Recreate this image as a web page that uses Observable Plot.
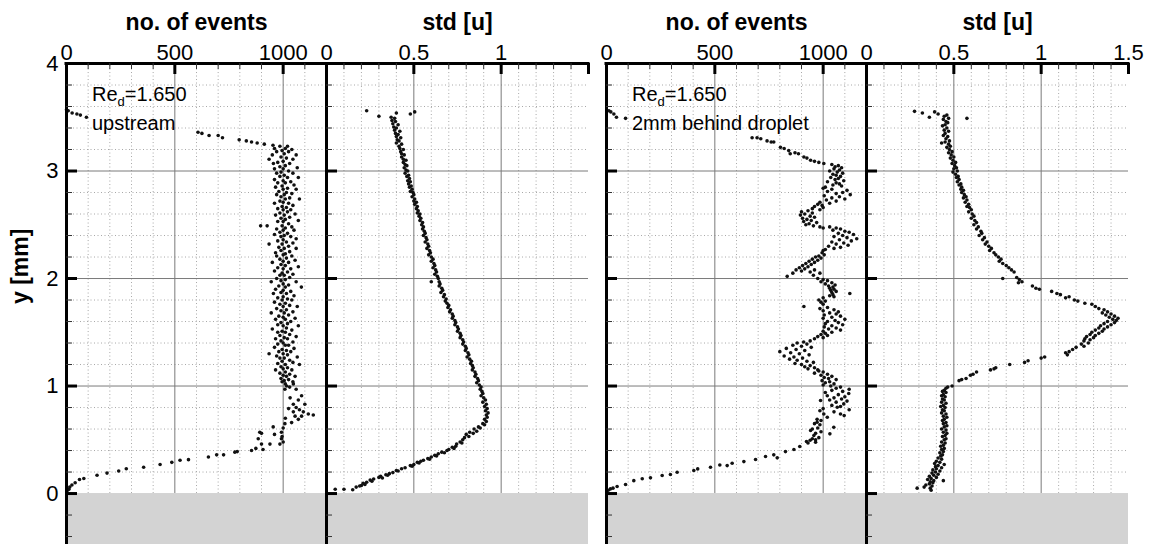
<!DOCTYPE html>
<html><head><meta charset="utf-8">
<script src="https://cdn.jsdelivr.net/npm/d3@7"></script>
<script src="https://cdn.jsdelivr.net/npm/@observablehq/plot@0.6"></script>
<style>
body{margin:0;background:#fff;}
#wrap{position:relative;width:1150px;height:544px;overflow:hidden;font-family:"Liberation Sans",Arial,sans-serif;}
</style></head><body><div id="wrap"></div>
<script>
// ---------- axes / ticks ----------
const Y_TOP = 4, Y_BOTTOM = -0.474;
const yTickMajor = [0, 1, 2, 3];
const yTickMinor = [-0.4, -0.2, 0.2, 0.4, 0.6, 0.8, 1.2, 1.4, 1.6, 1.8, 2.2, 2.4, 2.6, 2.8, 3.2, 3.4, 3.6, 3.8];
const yGridMajor = [1, 2, 3];
const yGridMinor = [0.2, 0.4, 0.6, 0.8, 1.2, 1.4, 1.6, 1.8, 2.2, 2.4, 2.6, 2.8, 3.2, 3.4, 3.6, 3.8];
const yLabels = [0, 1, 2, 3, 4];
const eventsDomain = [0, 1200];
const eventsMajor = [500, 1000];
const eventsMinor = [100, 200, 300, 400, 600, 700, 800, 900, 1100];
const eventsLabels = [0, 500, 1000];
const stdDomain = [0, 1.5];
const stdMajor = [0.5, 1, 1.5];
const stdMinor = [0.1, 0.2, 0.3, 0.4, 0.6, 0.7, 0.8, 0.9, 1.1, 1.2, 1.3, 1.4];
const stdLabelsLeft = [0, 0.5, 1];
const stdLabelsRight = [0, 0.5, 1, 1.5];
const titles = ["no. of events", "std [u]", "no. of events", "std [u]"];
const yTitle = "y [mm]";
const annotLeft = ["Re", "d", "=1.650", "upstream"];
const annotRight = ["Re", "d", "=1.650", "2mm behind droplet"];

// ---------- data: [x, y] ----------
const upstreamEvents = [
[0,3.57],[8,3.56],[26,3.54],[48,3.53],[64,3.52],[92,3.50],
[607,3.36],[625,3.35],[658,3.33],[700,3.33],[720,3.31],[797,3.29],[830,3.28],[854,3.27],[880,3.26],[913,3.25],[953,3.24],
[985,3.23],[1020,3.23],[1010,3.21],[960,3.21],[1040,3.20],[995,3.19],[1025,3.18],[970,3.18],[1005,3.16],[1060,3.15],[950,3.15],[990,3.13],[1015,3.12],[935,3.11],[1045,3.11],[1000,3.09],[975,3.08],[1030,3.07],[955,3.07],[1010,3.05],[985,3.04],[1065,3.03],[1000,3.02],[960,3.02],[1025,3.00],[990,2.99],[1045,2.98],[970,2.98],[1005,2.96],[985,2.95],[1070,2.94],[1020,2.94],[960,2.92],[1000,2.91],[1035,2.90],[975,2.89],[1010,2.89],[1050,2.87],[995,2.86],[965,2.85],[1020,2.84],[1000,2.83],[1060,2.83],[980,2.81],[1015,2.80],[1040,2.79],[970,2.78],[1005,2.78],[990,2.76],[1030,2.75],[1010,2.74],[1075,2.74],[985,2.72],[1000,2.71],[960,2.70],[1025,2.70],[1045,2.68],[995,2.67],[1015,2.66],[975,2.65],[1035,2.64],[1000,2.64],[1020,2.62],[985,2.61],[1055,2.60],[1005,2.59],[965,2.59],[1030,2.57],[990,2.56],[1010,2.55],[1070,2.54],[975,2.53],[1000,2.53],[1025,2.51],[896,2.49],[926,2.49],[995,2.49],[1040,2.48],[1010,2.47],[970,2.46],[1000,2.45],[1050,2.45],[985,2.43],[1020,2.42],[960,2.41],[1005,2.40],[1035,2.39],[990,2.39],[1060,2.37],[1000,2.36],[975,2.35],[1015,2.34],[1045,2.33],[935,2.32],[995,2.32],[1025,2.30],[980,2.29],[1005,2.28],[1060,2.28],[990,2.26],[1030,2.25],[965,2.24],[1010,2.23],[1000,2.22],[1040,2.21],[970,2.21],[1015,2.19],[985,2.18],[1055,2.17],[1000,2.16],[950,2.15],[1025,2.15],[990,2.13],[1010,2.12],[1070,2.11],[975,2.10],[1000,2.09],[1035,2.09],[960,2.07],[1020,2.06],[995,2.05],[1045,2.04],[985,2.03],[1005,2.03],[1030,2.01],[970,2.00],[1010,1.99],[990,1.98],[1060,1.97],[945,1.97],[1000,1.95],[1025,1.94],[980,1.93],[1084,1.92],[1010,1.92],[965,1.90],[1000,1.89],[1035,1.88],[990,1.87],[1015,1.86],[955,1.86],[1050,1.84],[1000,1.83],[975,1.82],[1020,1.81],[995,1.80],[1040,1.80],[960,1.78],[1010,1.77],[985,1.76],[1030,1.75],[1000,1.74],[1065,1.74],[970,1.72],[1015,1.71],[990,1.70],[1045,1.69],[1005,1.68],[945,1.68],[1025,1.66],[980,1.65],[1000,1.64],[1055,1.63],[965,1.62],[1010,1.62],[1035,1.60],[990,1.59],[1020,1.58],[975,1.57],[1000,1.56],[1070,1.56],[1015,1.54],[950,1.53],[1040,1.52],[995,1.51],[1010,1.50],[975,1.50],[1030,1.48],[985,1.47],[1060,1.46],[1005,1.45],[965,1.44],[1020,1.44],[990,1.42],[1045,1.41],[1000,1.40],[975,1.39],[1025,1.38],[1010,1.38],[960,1.36],[1050,1.35],[995,1.34],[1015,1.33],[980,1.32],[1035,1.32],[935,1.30],[1000,1.30],[1020,1.29],[970,1.28],[1065,1.27],[1005,1.26],[985,1.26],[1030,1.24],[995,1.23],[1045,1.22],[975,1.21],[1010,1.20],[1075,1.20],[990,1.18],[1020,1.17],[1000,1.16],[1040,1.15],[965,1.15],[1010,1.13],[985,1.12],[1030,1.11],[1000,1.10],[1055,1.09],[1015,1.09],[990,1.07],[1025,1.06],[1005,1.05],[995,1.04],[1045,1.04],[1047,1.02],[1010,1.02],[1016,1.00],[1030,0.99],[1008,0.97],[1060,0.97],
[1032,0.89],[1085,0.91],[1047,0.83],[1100,0.83],[1070,0.87],[1093,0.76],[1047,0.76],[1055,0.72],[1116,0.74],[1139,0.73],[1085,0.72],[1070,0.69],[1039,0.66],[1008,0.65],[1000,0.61],[954,0.62],[992,0.57],[892,0.57],[900,0.56],[885,0.51],[992,0.51],[985,0.46],[939,0.46],[900,0.46],[907,0.41],[874,0.42],[854,0.40],[788,0.39],[777,0.385],[725,0.36],[693,0.36],[655,0.34],[563,0.315],[524,0.31],[486,0.29],[432,0.27],[356,0.245],[276,0.23],[241,0.21],[187,0.19],[141,0.17],[80,0.14],[60,0.13],[40,0.10],[25,0.08],[15,0.06],[11,0.04],[5,0.03],
[1010,0.70],[1025,0.79],[1060,0.80],[1075,0.78],[995,0.53],[1000,0.48],[960,0.55]
];

const upstreamStd = [
[0.23,3.56],[0.30,3.51],[0.40,3.54],[0.48,3.53],[0.505,3.55],
[0.37,3.50],[0.39,3.49],[0.375,3.47],[0.395,3.46],[0.38,3.44],[0.41,3.43],[0.385,3.41],[0.40,3.40],[0.39,3.38],[0.42,3.37],[0.395,3.35],[0.41,3.34],[0.40,3.32],[0.425,3.31],[0.405,3.29],[0.415,3.28],[0.40,3.26],[0.43,3.25],[0.415,3.23],[0.42,3.21],[0.44,3.20],[0.425,3.18],[0.43,3.16],[0.445,3.15],[0.43,3.13],[0.44,3.11],[0.455,3.10],[0.44,3.08],[0.45,3.06],[0.46,3.05],[0.445,3.03],[0.455,3.01],[0.465,3.00],[0.45,2.98],[0.47,2.96],[0.46,2.95],[0.475,2.93],[0.465,2.91],[0.48,2.90],[0.47,2.88],[0.485,2.86],[0.475,2.85],[0.49,2.83],[0.48,2.81],[0.495,2.80],[0.50,2.78],[0.49,2.76],[0.505,2.74],[0.50,2.72],[0.515,2.71],[0.505,2.69],[0.52,2.67],[0.515,2.65],[0.525,2.63],[0.52,2.61],[0.535,2.60],[0.53,2.58],[0.54,2.56],[0.535,2.54],[0.55,2.52],[0.545,2.50],[0.555,2.48],[0.55,2.46],[0.56,2.44],[0.565,2.42],[0.555,2.40],[0.57,2.38],[0.575,2.36],[0.565,2.34],[0.58,2.32],[0.585,2.30],[0.575,2.28],[0.59,2.26],[0.595,2.24],[0.585,2.22],[0.60,2.20],[0.61,2.18],[0.60,2.16],[0.615,2.14],[0.62,2.12],[0.61,2.10],[0.625,2.08],[0.63,2.06],[0.62,2.04],[0.635,2.02],[0.64,2.00],[0.60,1.97],[0.645,1.97],[0.65,1.95],[0.645,1.93],[0.66,1.91],[0.665,1.89],[0.655,1.87],[0.675,1.85],[0.67,1.83],[0.685,1.81],[0.68,1.79],[0.69,1.77],[0.70,1.75],[0.695,1.73],[0.71,1.71],[0.705,1.69],[0.72,1.67],[0.725,1.65],[0.72,1.63],[0.735,1.61],[0.74,1.59],[0.735,1.57],[0.75,1.55],[0.755,1.53],[0.75,1.51],[0.765,1.49],[0.77,1.47],[0.765,1.45],[0.78,1.43],[0.785,1.41],[0.78,1.39],[0.795,1.37],[0.80,1.35],[0.795,1.33],[0.81,1.31],[0.815,1.29],[0.805,1.27],[0.82,1.25],[0.83,1.23],[0.825,1.21],[0.835,1.19],[0.84,1.17],[0.835,1.15],[0.85,1.13],[0.855,1.11],[0.85,1.09],[0.865,1.07],[0.87,1.05],[0.86,1.03],[0.875,1.01],[0.885,0.99],[0.88,0.97],[0.89,0.95],[0.895,0.93],[0.885,0.91],[0.90,0.89],[0.91,0.87],[0.895,0.85],[0.915,0.83],[0.905,0.81],[0.92,0.79],[0.91,0.77],[0.925,0.75],[0.915,0.73],[0.92,0.71],[0.905,0.69],[0.915,0.67],[0.895,0.65],[0.905,0.64],[0.87,0.62],[0.88,0.61],[0.845,0.60],[0.86,0.58],[0.82,0.57],[0.84,0.56],[0.80,0.55],[0.815,0.53],[0.79,0.52],[0.78,0.50],[0.765,0.48],[0.775,0.47],[0.745,0.46],[0.74,0.44],[0.72,0.43],[0.73,0.42],[0.70,0.41],[0.69,0.40],[0.66,0.385],[0.675,0.38],[0.64,0.37],[0.62,0.355],[0.63,0.35],[0.60,0.34],[0.58,0.325],[0.59,0.32],[0.555,0.31],[0.54,0.30],[0.52,0.29],[0.53,0.285],[0.50,0.27],[0.48,0.26],[0.49,0.255],[0.45,0.24],[0.43,0.23],[0.40,0.215],[0.41,0.21],[0.38,0.195],[0.36,0.185],[0.34,0.175],[0.35,0.17],[0.31,0.16],[0.30,0.15],[0.32,0.145],[0.27,0.135],[0.25,0.125],[0.26,0.115],[0.23,0.105],[0.21,0.095],[0.22,0.085],[0.20,0.075],[0.19,0.07],[0.17,0.06],[0.15,0.035],[0.10,0.04],[0.05,0.04]
];

const behindEvents = [
[11,3.56],[20,3.55],[34,3.53],[46,3.50],[88,3.49],
[672,3.31],[695,3.31],[712,3.30],[741,3.28],[760,3.27],[772,3.27],[803,3.22],[820,3.21],[841,3.19],[848,3.16],[870,3.17],[886,3.16],[911,3.13],[925,3.12],[942,3.10],[960,3.09],[980,3.08],[1003,3.07],
[1040,3.06],[1070,3.05],[1055,3.04],[1085,3.03],[1050,3.02],[1075,3.01],[1030,3.00],[1065,2.99],[1090,2.98],[1045,2.97],[1060,2.96],[1080,2.95],[1035,2.94],[1070,2.93],[1055,2.92],[1095,2.91],[1020,2.90],[1060,2.89],[1075,2.88],[1045,2.87],[1085,2.86],[1010,2.85],
[1000,2.84],[1040,2.83],[1110,2.82],[1020,2.81],[1090,2.80],[1060,2.79],[1125,2.78],[1005,2.77],[1075,2.76],[1040,2.75],[1100,2.74],[1015,2.73],[1060,2.72],[985,2.71],[1030,2.70],
[975,2.69],[995,2.68],[960,2.67],[1000,2.66],[950,2.65],[985,2.64],
[930,2.63],[900,2.62],[950,2.61],[915,2.60],[895,2.59],[940,2.58],[960,2.57],[905,2.56],[925,2.55],[945,2.54],[910,2.53],[970,2.52],[935,2.51],[920,2.50],[955,2.49],[985,2.48],[1000,2.47],
[1030,2.48],[1060,2.47],[1080,2.46],[1045,2.45],[1100,2.44],[1120,2.43],[1070,2.42],[1140,2.41],[1090,2.40],[1050,2.39],[1110,2.38],[1155,2.37],[1075,2.36],[1130,2.35],[1040,2.34],[1095,2.33],[1060,2.32],[1115,2.31],[1025,2.30],[1080,2.29],[1050,2.28],[1010,2.27],[1000,2.26],
[995,2.24],[1005,2.22],[980,2.21],[965,2.20],[990,2.19],[950,2.18],[975,2.17],[935,2.16],[960,2.15],[920,2.14],[945,2.13],[905,2.12],[930,2.11],[890,2.10],[915,2.09],[960,2.08],[875,2.08],[900,2.07],[940,2.06],[860,2.05],[985,2.05],[834,2.02],[955,2.03],
[975,2.00],[1000,1.99],[1020,1.98],[990,1.97],[1040,1.96],[1010,1.95],[1055,1.94],[1025,1.93],[1045,1.92],[1030,1.91],[1050,1.90],[1035,1.89],[1060,1.88],[1040,1.87],[1123,1.86],[1045,1.85],[1030,1.84],[1050,1.83],
[1000,1.82],[980,1.80],[1010,1.79],[990,1.78],[1000,1.76],[911,1.74],[1020,1.73],[985,1.72],[1050,1.71],[1000,1.70],[1070,1.69],[1030,1.68],[1060,1.67],[1005,1.66],[1080,1.65],[1040,1.64],[1000,1.63],[1100,1.62],[1055,1.61],[1020,1.60],[1070,1.59],[1010,1.58],[1090,1.57],[1040,1.56],[1005,1.55],[1060,1.54],[1025,1.53],[1080,1.52],[1000,1.51],[1040,1.50],[1010,1.49],[990,1.48],[1020,1.47],[975,1.46],[1000,1.45],[960,1.44],
[940,1.42],[910,1.41],[880,1.40],[925,1.39],[860,1.38],[900,1.37],[945,1.36],[830,1.35],[875,1.34],[915,1.33],[800,1.32],[850,1.31],[890,1.30],[935,1.29],[820,1.28],[865,1.27],[905,1.26],[845,1.25],[880,1.24],[925,1.23],[955,1.22],[870,1.21],[900,1.20],[940,1.19],[915,1.18],[960,1.17],[930,1.16],[975,1.15],
[980,1.14],[1000,1.13],[960,1.12],[1020,1.11],[990,1.10],[1040,1.09],[1005,1.08],[1025,1.07],[1060,1.06],[995,1.05],[1030,1.04],[1010,1.03],[1050,1.02],[1000,1.01],[1035,1.00],
[1080,0.99],[1060,0.98],[1120,0.97],[1040,0.96],[1090,0.95],[1010,0.94],[1118,0.93],[1070,0.92],[1019,0.91],[1100,0.90],[1050,0.89],[1085,0.88],[1030,0.87],[1110,0.86],[988,0.865],[1060,0.85],[1095,0.834],[1040,0.82],[1080,0.81],[1065,0.803],[1000,0.79],[1120,0.78],[985,0.77],[1050,0.76],[1080,0.74],[1003,0.74],[1097,0.725],[1019,0.71],
[972,0.69],[990,0.68],[972,0.663],[960,0.65],[985,0.64],[1049,0.617],[975,0.61],[950,0.60],[942,0.586],[990,0.575],[965,0.56],[1031,0.555],[957,0.54],[980,0.52],[950,0.51],[965,0.50],[940,0.495],[923,0.484],[965,0.477],[930,0.47],
[892,0.437],[865,0.41],[826,0.39],[772,0.36],[788,0.332],[734,0.344],[688,0.316],[634,0.297],[580,0.282],[557,0.26],[523,0.266],[480,0.245],[421,0.229],[403,0.214],[326,0.198],[295,0.177],[257,0.168],[203,0.146],[165,0.137],[126,0.12],[88,0.084],[49,0.065],[30,0.05],[18,0.043],[8,0.03]
];

const behindStd = [
[0.275,3.555],[0.32,3.54],[0.36,3.50],[0.39,3.55],[0.41,3.53],[0.575,3.49],
[0.46,3.52],[0.445,3.51],[0.47,3.49],[0.44,3.48],[0.455,3.46],[0.465,3.45],[0.45,3.43],[0.435,3.42],[0.46,3.40],[0.445,3.38],[0.47,3.37],[0.45,3.35],[0.44,3.33],[0.465,3.32],[0.455,3.30],[0.475,3.28],[0.45,3.27],[0.43,3.26],[0.47,3.25],[0.48,3.23],[0.46,3.22],[0.475,3.20],[0.49,3.18],[0.47,3.17],[0.485,3.15],[0.50,3.13],[0.48,3.12],[0.495,3.10],[0.51,3.08],[0.49,3.07],[0.505,3.05],[0.515,3.03],[0.50,3.02],[0.52,3.00],[0.495,2.99],[0.51,2.97],[0.525,2.95],[0.515,2.94],[0.53,2.92],[0.52,2.90],[0.54,2.88],[0.53,2.87],[0.545,2.85],[0.54,2.83],[0.555,2.82],[0.545,2.80],[0.56,2.78],[0.57,2.76],[0.555,2.75],[0.575,2.73],[0.565,2.71],[0.585,2.69],[0.575,2.67],[0.59,2.66],[0.60,2.64],[0.585,2.62],[0.605,2.60],[0.615,2.58],[0.60,2.56],[0.62,2.54],[0.63,2.52],[0.615,2.50],[0.64,2.48],[0.63,2.46],[0.655,2.44],[0.66,2.42],[0.645,2.40],[0.675,2.38],[0.665,2.36],[0.69,2.34],[0.68,2.32],[0.70,2.30],[0.715,2.28],[0.705,2.26],[0.73,2.24],[0.74,2.22],[0.755,2.20],[0.77,2.18],[0.76,2.16],[0.78,2.14],[0.80,2.12],[0.815,2.10],[0.83,2.08],[0.845,2.06],
[0.78,2.00],[0.86,2.01],[0.875,1.99],[0.89,1.97],[0.87,1.96],[0.95,1.93],[0.97,1.91],[0.99,1.90],[1.06,1.88],[1.09,1.86],[1.11,1.85],[1.16,1.83],[1.14,1.82],[1.19,1.80],[1.21,1.79],[1.25,1.77],[1.29,1.76],[1.31,1.74],[1.33,1.72],[1.36,1.71],[1.38,1.69],[1.35,1.68],[1.40,1.67],[1.37,1.66],[1.42,1.65],[1.39,1.64],[1.44,1.63],[1.41,1.62],[1.43,1.61],[1.38,1.60],[1.42,1.59],[1.36,1.58],[1.40,1.57],[1.34,1.56],[1.38,1.55],[1.33,1.54],[1.36,1.53],[1.31,1.52],[1.35,1.51],[1.29,1.50],[1.33,1.49],[1.28,1.48],[1.31,1.47],[1.26,1.46],[1.30,1.45],[1.25,1.44],[1.28,1.43],[1.245,1.42],[1.27,1.40],[1.23,1.39],[1.245,1.37],[1.20,1.36],[1.18,1.34],[1.16,1.32],[1.14,1.31],[1.15,1.29],[1.02,1.27],[1.0,1.26],[0.925,1.235],[0.905,1.22],[0.82,1.20],[0.74,1.17],[0.73,1.16],[0.71,1.15],[0.63,1.13],[0.61,1.11],[0.595,1.10],[0.57,1.07],[0.545,1.06],[0.53,1.05],[0.49,1.00],[0.465,0.99],[0.455,0.98],
[0.445,0.96],[0.435,0.95],[0.455,0.94],[0.44,0.92],[0.43,0.91],[0.45,0.90],[0.435,0.88],[0.445,0.87],[0.43,0.85],[0.455,0.84],[0.44,0.82],[0.425,0.81],[0.45,0.80],[0.435,0.78],[0.445,0.77],[0.43,0.75],[0.455,0.74],[0.44,0.72],[0.46,0.71],[0.445,0.69],[0.435,0.68],[0.455,0.66],[0.44,0.65],[0.46,0.63],[0.445,0.62],[0.43,0.60],[0.455,0.59],[0.44,0.57],[0.46,0.56],[0.45,0.54],[0.435,0.53],[0.455,0.51],[0.445,0.50],[0.43,0.48],[0.45,0.47],[0.44,0.45],[0.425,0.44],[0.445,0.42],[0.43,0.41],[0.44,0.39],[0.42,0.38],[0.435,0.36],[0.425,0.35],
[0.41,0.33],[0.43,0.32],[0.40,0.30],[0.42,0.29],[0.39,0.28],[0.445,0.27],[0.41,0.26],[0.395,0.25],[0.43,0.24],[0.40,0.23],[0.38,0.22],[0.42,0.21],[0.395,0.20],[0.375,0.19],[0.41,0.18],[0.385,0.17],[0.36,0.16],[0.40,0.15],[0.37,0.14],[0.35,0.13],[0.385,0.12],[0.365,0.11],[0.44,0.12],[0.38,0.10],[0.36,0.09],[0.34,0.08],[0.375,0.07],[0.29,0.05],[0.33,0.06],[0.365,0.05],[0.37,0.03]
];

// ---------- drawing ----------
const FONT = "'Liberation Sans', Arial, sans-serif";
const wrap = document.getElementById("wrap");
const HEIGHT = 544, MT = 63;

function panel(cfg) {
  const {left, width, mL, mR, domain, major, minor, labels, title, data, withY, annot, fmt} = cfg;
  const [x0, x1] = domain;
  const ux = (x1 - x0) / (width - mL - mR);
  const uy = (Y_TOP - Y_BOTTOM) / (HEIGHT - MT);
  const marks = [
    Plot.ruleX(minor, {y1: 0, y2: Y_TOP, stroke: "#a8a8a8", strokeWidth: 1, strokeDasharray: "1,2.5"}),
    Plot.ruleY(yGridMinor, {x1: x0, x2: x1, stroke: "#a8a8a8", strokeWidth: 1, strokeDasharray: "1,2.5"}),
    Plot.ruleX(major.filter(v => v < x1), {y1: 0, y2: Y_TOP, stroke: "#7a7a7a", strokeWidth: 1}),
    Plot.ruleY(yGridMajor, {x1: x0, x2: x1, stroke: "#7a7a7a", strokeWidth: 1}),
    Plot.rect([0], {x1: x0, x2: x1, y1: Y_BOTTOM, y2: 0, fill: "#d3d3d3"}),
    Plot.dot(data, {x: d => d[0], y: d => d[1], r: 1.8, fill: "#111", stroke: "none"}),
    Plot.ruleX([x0], {y1: Y_BOTTOM, y2: Y_TOP, stroke: "#000", strokeWidth: 3}),
    Plot.ruleY([Y_TOP], {x1: x0, x2: x1, stroke: "#000", strokeWidth: 3, strokeLinecap: "square"}),
    Plot.ruleX(minor, {y1: Y_TOP, y2: Y_TOP - 6 * uy, stroke: "#333", strokeWidth: 1}),
    Plot.ruleX(major, {y1: Y_TOP, y2: Y_TOP - 11 * uy, stroke: "#000", strokeWidth: 3}),
    Plot.ruleY(yTickMinor, {x1: x0, x2: x0 + 6 * ux, stroke: "#333", strokeWidth: 1}),
    Plot.ruleY(yTickMajor, {x1: x0, x2: x0 + 11 * ux, stroke: "#000", strokeWidth: 3}),
    Plot.text(labels, {x: d => d, y: Y_TOP, dy: -4, lineAnchor: "bottom", text: d => fmt(d), fontSize: 22, fill: "#000"}),
    Plot.text([{x: (x0 + x1) / 2, t: title}], {x: "x", y: Y_TOP, dy: -34, lineAnchor: "bottom", text: "t", fontSize: 23, fontWeight: "bold", fill: "#000"})
  ];
  if (withY) {
    marks.push(Plot.text(yLabels, {x: x0, y: d => d, dx: -8, textAnchor: "end", text: d => String(d), fontSize: 22, fill: "#000"}));
    marks.push(Plot.text([yTitle], {frameAnchor: "left", dx: -46, rotate: -90, text: d => d, fontSize: 23, fontWeight: "bold", fill: "#000"}));
  }
  const plot = Plot.plot({
    width, height: HEIGHT,
    marginLeft: mL, marginRight: mR, marginTop: MT, marginBottom: 0,
    x: {domain, axis: null},
    y: {domain: [Y_BOTTOM, Y_TOP], axis: null},
    style: {background: "transparent", overflow: "visible", fontFamily: FONT},
    marks
  });
  plot.style.position = "absolute";
  plot.style.left = left + "px";
  plot.style.top = "0px";
  plot.style.maxWidth = "none";
  if (annot) {
    const sx = plot.scale("x"), sy = plot.scale("y");
    const g = d3.select(plot).append("g").attr("font-family", FONT).attr("fill", "#000").attr("text-anchor", "start");
    const t1 = g.append("text").attr("x", sx.apply(annot.x)).attr("y", sy.apply(annot.y1)).attr("font-size", 20).attr("text-anchor", "start");
    t1.append("tspan").text(annot.lines[0]);
    t1.append("tspan").attr("font-size", 13).attr("dy", 5).text(annot.lines[1]);
    t1.append("tspan").attr("dy", -5).text(annot.lines[2]);
    g.append("text").attr("x", sx.apply(annot.x)).attr("y", sy.apply(annot.y2)).attr("font-size", 20).attr("text-anchor", "start").text(annot.lines[3]);
  }
  wrap.appendChild(plot);
}

const fmtNum = d => String(d);
panel({left: 0, width: 326, mL: 66, mR: 0, domain: eventsDomain, major: eventsMajor, minor: eventsMinor,
  labels: eventsLabels, title: titles[0], data: upstreamEvents, withY: true, fmt: fmtNum,
  annot: {x: 120, y1: 3.65, y2: 3.38, lines: annotLeft}});
panel({left: 326, width: 280, mL: 0, mR: 18, domain: stdDomain, major: stdMajor, minor: stdMinor,
  labels: stdLabelsLeft, title: titles[1], data: upstreamStd, withY: false, fmt: fmtNum});
panel({left: 606, width: 260, mL: 0, mR: 0, domain: eventsDomain, major: eventsMajor, minor: eventsMinor,
  labels: eventsLabels, title: titles[2], data: behindEvents, withY: false, fmt: fmtNum,
  annot: {x: 120, y1: 3.65, y2: 3.38, lines: annotRight}});
panel({left: 866, width: 284, mL: 0, mR: 22, domain: stdDomain, major: stdMajor, minor: stdMinor,
  labels: stdLabelsRight, title: titles[3], data: behindStd, withY: false, fmt: fmtNum});
</script>
</body></html>
